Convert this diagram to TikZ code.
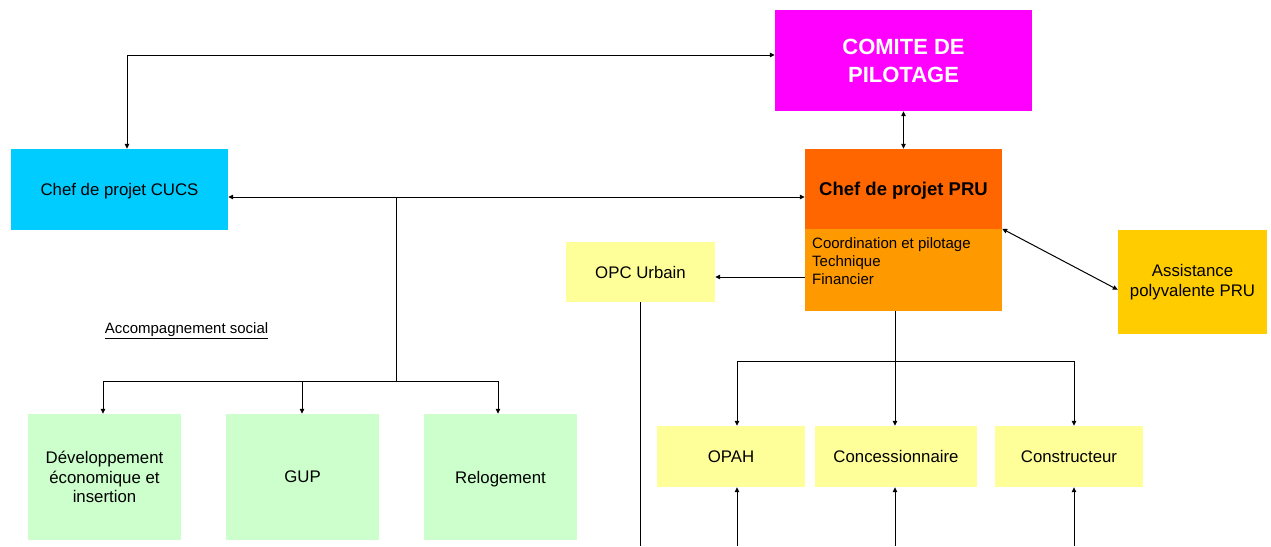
\documentclass[tikz,border=0pt]{standalone}
\usepackage{fontspec}
\setmainfont{Liberation Sans}
\usetikzlibrary{arrows.meta,calc}
\definecolor{cmag}{HTML}{FF00FF}
\definecolor{ccyan}{HTML}{00CCFF}
\definecolor{corA}{HTML}{FF6600}
\definecolor{corB}{HTML}{FF9900}
\definecolor{cgold}{HTML}{FFCC00}
\definecolor{cyel}{HTML}{FFFF99}
\definecolor{cgrn}{HTML}{CCFFCC}
\tikzset{
  box/.style={inner sep=0pt, align=center, font=\fontsize{16.8}{19.5}\selectfont},
  conn/.style={line width=1pt, -{Triangle[length=5pt,width=4.5pt]}},
  bconn/.style={line width=1pt, {Triangle[length=5pt,width=4.5pt]}-{Triangle[length=5pt,width=4.5pt]}},
  plain/.style={line width=1pt}
}
\begin{document}
\begin{tikzpicture}[x=1pt,y=-1pt]
\useasboundingbox (0,0) rectangle (1271,546);
% boxes
\node[box, fill=cmag, minimum width=257pt, minimum height=101pt, text=white, font=\bfseries\fontsize{22}{28}\selectfont] (comite) at (903.5,60.5) {COMITE DE\\PILOTAGE};
\node[box, fill=ccyan, minimum width=217pt, minimum height=81pt, text depth=0pt] (cucs) at (119.5,189.5) {Chef de projet CUCS};
\node[box, fill=corA, minimum width=197pt, minimum height=80pt, text depth=0pt, font=\bfseries\fontsize{18.5}{22}\selectfont] (pru) at (903.5,189) {Chef de projet PRU};
\node[box, fill=corB, minimum width=197pt, minimum height=82pt] (prul) at (903.5,270) {};
\node[inner sep=0pt, anchor=north west, align=left, font=\fontsize{15}{18}\selectfont] (prutxt) at (812,237) {Coordination et pilotage\\Technique\\Financier};
\node[box, fill=cyel, minimum width=149pt, minimum height=60pt, text depth=0pt] (opc) at (640.5,272) {OPC Urbain};
\node[box, fill=cgold, minimum width=149pt, minimum height=104pt] (assist) at (1192.5,282) {Assistance\\polyvalente PRU};
\node[inner sep=0pt, font=\fontsize{15}{18}\selectfont] (accomp) at (186.5,331) {\underline{Accompagnement social}};
\node[box, fill=cgrn, minimum width=153pt, minimum height=126pt] (dev) at (104.5,477) {Développement\\économique et\\insertion};
\node[box, fill=cgrn, minimum width=153pt, minimum height=126pt, text depth=0pt] (gup) at (302.5,477) {GUP};
\node[box, fill=cgrn, minimum width=153pt, minimum height=126pt, text depth=0pt] (rel) at (500.5,477) {Relogement};
\node[box, fill=cyel, minimum width=148pt, minimum height=61pt, text depth=0pt] (opah) at (731,456.5) {OPAH};
\node[box, fill=cyel, minimum width=162pt, minimum height=61pt, text depth=0pt] (conc) at (896,456.5) {Concessionnaire};
\node[box, fill=cyel, minimum width=148pt, minimum height=61pt, text depth=0pt] (cons) at (1069,456.5) {Constructeur};
% coordinates
\coordinate (k1) at (127,55);
\coordinate (hl) at (0,197);
\coordinate (j1) at (396,197);
\coordinate (j2) at (396,381);
\coordinate (g1) at (103,381);
\coordinate (g2) at (302,381);
\coordinate (g3) at (498,381);
\coordinate (p1) at (895,311);
\coordinate (p2) at (895,361);
\coordinate (y1) at (737,361);
\coordinate (y3) at (1074,361);
\coordinate (b1) at (737,546);
\coordinate (b2) at (895,546);
\coordinate (b3) at (1074,546);
\coordinate (ob) at (640,546);
\coordinate (ol) at (0,277);
% connectors
\draw[bconn] (comite.west |- k1) -| (cucs.north -| k1);
\draw[bconn] (comite.south) -- (pru.north);
\draw[bconn] (cucs.east |- hl) -- (pru.west |- hl);
\draw[plain] (j1) -- (j2);
\draw[plain] (g1) -- (g3);
\draw[conn] (g1) -- (dev.north -| g1);
\draw[conn] (g2) -- (gup.north -| g2);
\draw[conn] (g3) -- (rel.north -| g3);
\draw[plain] (p1) -- (p2);
\draw[plain] (y1) -- (y3);
\draw[conn] (y1) -- (opah.north -| y1);
\draw[conn] (p2) -- (conc.north -| p2);
\draw[conn] (y3) -- (cons.north -| y3);
\draw[conn] (prul.west |- ol) -- (opc.east |- ol);
\draw[bconn] (prul.north east) -- ($(assist.north west)+(0,60)$);
\draw[plain] (opc.south -| ob) -- (ob);
\draw[conn] (b1) -- (opah.south -| b1);
\draw[conn] (b2) -- (conc.south -| b2);
\draw[conn] (b3) -- (cons.south -| b3);
\end{tikzpicture}
\end{document}
